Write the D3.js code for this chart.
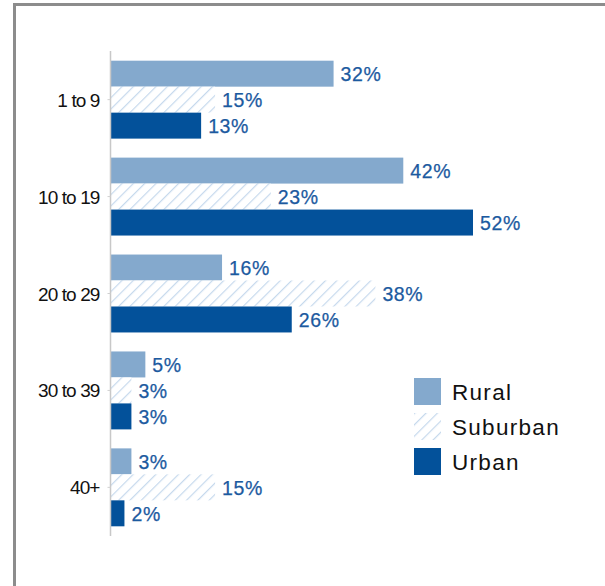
<!DOCTYPE html>
<html>
<head>
<meta charset="utf-8">
<script src="https://cdn.jsdelivr.net/npm/d3@7"></script>
<style>
  html, body { margin: 0; padding: 0; background: #fff; }
  svg { display: block; }
</style>
</head>
<body>
<svg id="chart" width="605" height="586"></svg>
<script>
// Age groups and share of each setting (percent)
const categories = ["1 to 9", "10 to 19", "20 to 29", "30 to 39", "40+"];
const seriesNames = ["Rural", "Suburban", "Urban"];
const rural    = [32, 42, 16, 5, 3];
const suburban = [15, 23, 38, 3, 15];
const urban    = [13, 52, 26, 3, 2];
const seriesValues = [rural, suburban, urban];

const colors = { Rural: "#84a9cd", Suburban: "url(#hatch)", Urban: "#03519a" };
const labelColor = "#1c5a9f";
const font = "'Liberation Sans', Arial, sans-serif";

const svg = d3.select("#chart");
const W = 605, H = 586;

// Hatch pattern for the suburban bars
const defs = svg.append("defs");
const pat = defs.append("pattern")
  .attr("id", "hatch")
  .attr("patternUnits", "userSpaceOnUse")
  .attr("width", 8).attr("height", 8)
  .attr("patternTransform", "rotate(45)");
pat.append("rect").attr("width", 8).attr("height", 8).attr("fill", "#fff");
pat.append("line")
  .attr("x1", 0).attr("y1", 0).attr("x2", 0).attr("y2", 8)
  .attr("stroke", "#c6d9ed").attr("stroke-width", 2.4);

// Frame (left and top edges)
svg.append("path")
  .attr("d", `M14.5,${H} L14.5,4.5 L${W},4.5`)
  .attr("fill", "none").attr("stroke", "#8c8c8c").attr("stroke-width", 3);

const x0 = 110.5;
const x = d3.scaleLinear().domain([0, 52]).range([x0, x0 + 362.5]);
const y = d3.scaleBand().domain(categories).range([51, 536])
  .paddingInner(0.196).paddingOuter(0.1);
const ySub = d3.scaleBand().domain(seriesNames).range([0, y.bandwidth()]);

const rows = categories.map((c, i) => ({
  cat: c,
  vals: seriesNames.map((s, j) => ({ series: s, value: seriesValues[j][i] }))
}));

const g = svg.append("g");

const groups = g.selectAll("g.grp").data(rows).join("g")
  .attr("class", "grp")
  .attr("transform", d => `translate(0,${y(d.cat)})`);

groups.selectAll("rect").data(d => d.vals).join("rect")
  .attr("x", x(0))
  .attr("y", d => ySub(d.series))
  .attr("width", d => x(d.value) - x(0))
  .attr("height", ySub.bandwidth())
  .attr("fill", d => colors[d.series]);

groups.selectAll("text.val").data(d => d.vals).join("text")
  .attr("class", "val")
  .attr("x", d => x(d.value) + 7)
  .attr("y", d => ySub(d.series) + ySub.bandwidth() / 2)
  .attr("dy", "0.37em")
  .attr("fill", labelColor)
  .attr("font-family", font)
  .attr("font-size", 19.5)
  .attr("letter-spacing", "0.6")
  .attr("stroke", labelColor).attr("stroke-width", 0.25)
  .text(d => d.value + "%");

// Category axis
const axis = d3.axisLeft(y).tickSize(3).tickPadding(8);
const axG = svg.append("g").attr("transform", `translate(${x0},0)`).call(axis);
axG.select(".domain").attr("stroke", "#c8c8c8").attr("stroke-width", 1.5)
  .attr("d", "M0,51V536");
axG.selectAll(".tick line").attr("stroke", "#d0d0d0");
axG.selectAll(".tick text")
  .attr("fill", "#111")
  .attr("font-family", font)
  .attr("font-size", 19)
  .attr("letter-spacing", "-0.9")
  .attr("dy", "0.37em");

// Legend
const legend = svg.append("g").attr("transform", "translate(414,378)");
const li = legend.selectAll("g").data(seriesNames).join("g")
  .attr("transform", (d, i) => `translate(0,${i * 35})`);
li.append("rect").attr("width", 27).attr("height", 27)
  .attr("fill", d => colors[d]);
li.append("text")
  .attr("x", 38).attr("y", 13.5).attr("dy", "0.37em")
  .attr("fill", "#111")
  .attr("font-family", font)
  .attr("font-size", 22.5)
  .attr("letter-spacing", "1.3")
  .text(d => d);
</script>
</body>
</html>
